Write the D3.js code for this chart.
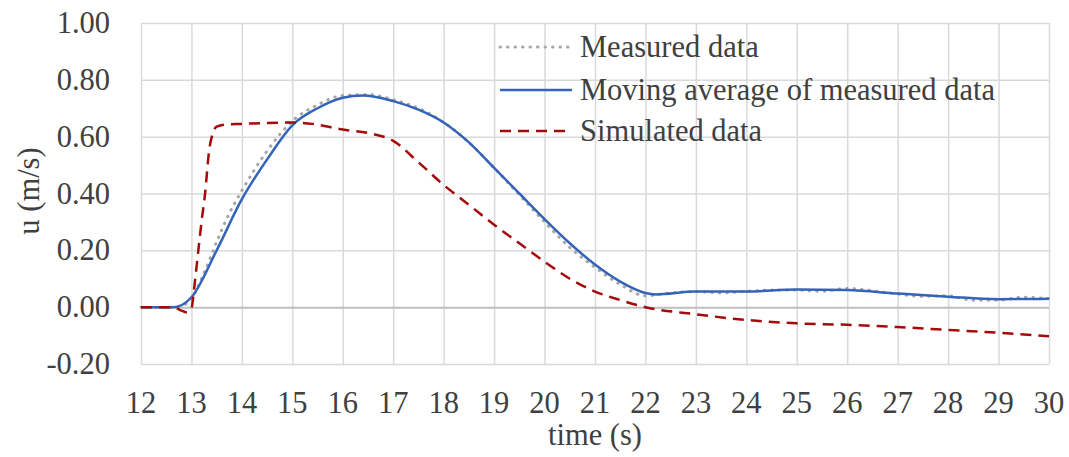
<!DOCTYPE html>
<html>
<head>
<meta charset="utf-8">
<script src="https://cdn.jsdelivr.net/npm/d3@7"></script>
<style>
  body { margin: 0; background: #fff; }
</style>
</head>
<body>
<svg id="chart" width="1069" height="457"></svg>
<script>
// tidspunkter og verdier lest av bildet
var maaltTid = [12, 12.5, 12.8, 13.0, 13.25, 13.5, 13.75, 14, 14.5, 15, 15.5, 16, 16.5, 17, 17.5, 18, 18.5, 19, 19.5, 20, 20.5, 21, 21.5, 22, 22.5, 23, 23.5, 24, 24.5, 25, 25.5, 26, 26.5, 27, 27.5, 28, 28.5, 29, 29.5, 30];
var maaltVerdi = [0, 0, 0.005, 0.03, 0.12, 0.23, 0.33, 0.41, 0.55, 0.655, 0.712, 0.745, 0.748, 0.73, 0.70, 0.65, 0.58, 0.49, 0.395, 0.30, 0.21, 0.14, 0.08, 0.04, 0.05, 0.055, 0.05, 0.056, 0.06, 0.06, 0.056, 0.066, 0.058, 0.046, 0.038, 0.04, 0.024, 0.025, 0.035, 0.03];

var snittTid = [12, 12.64, 13.0, 13.5, 14, 14.5, 15, 15.5, 16, 16.4, 17, 17.5, 18, 18.5, 19, 19.5, 20, 20.5, 21, 21.5, 22, 22.2, 23, 24, 25, 26, 27, 28, 29, 30];
var snittVerdi = [0, 0, 0.035, 0.2, 0.38, 0.52, 0.64, 0.70, 0.737, 0.745, 0.725, 0.695, 0.65, 0.58, 0.49, 0.40, 0.31, 0.225, 0.15, 0.09, 0.05, 0.045, 0.055, 0.055, 0.062, 0.06, 0.048, 0.037, 0.028, 0.03];

var simTid = [12, 12.65, 12.8, 12.9, 13.0, 13.05, 13.1, 13.2, 13.27, 13.35, 13.42, 13.5, 13.7, 14, 15, 15.4, 16, 16.5, 17, 17.5, 18, 18.5, 19, 19.5, 20, 20.5, 21, 21.5, 22, 23, 24, 25, 26, 27, 28, 29, 30];
var simVerdi = [0, 0, -0.012, -0.018, -0.005, 0.06, 0.14, 0.30, 0.40, 0.55, 0.61, 0.635, 0.643, 0.645, 0.65, 0.645, 0.625, 0.613, 0.585, 0.51, 0.43, 0.36, 0.29, 0.225, 0.16, 0.10, 0.055, 0.025, 0.0, -0.025, -0.045, -0.057, -0.062, -0.07, -0.08, -0.09, -0.102];

var xTicks = d3.range(12, 31, 1);
var yTicks = [-0.2, 0, 0.2, 0.4, 0.6, 0.8, 1.0];

var serieNavn = ["Measured data", "Moving average of measured data", "Simulated data"];

var svg = d3.select("#chart");
var venstre = 141, hoyre = 1049, topp = 23, bunn = 364;
var skrift = "'Liberation Serif'";
var skriftFarge = "#404040";
var skriftStr = "30.5px";

var x = d3.scaleLinear().domain([12, 30]).range([venstre, hoyre]);
var y = d3.scaleLinear().domain([-0.2, 1.0]).range([bunn, topp]);

// rutenett
svg.append("g")
    .attr("transform", "translate(0," + bunn + ")")
    .call(d3.axisBottom(x).tickValues(xTicks).tickSize(-(bunn - topp)).tickFormat(""))
    .call(function (g) {
        g.select(".domain").remove();
        g.selectAll("line").attr("stroke", "#d9d9d9").attr("stroke-width", 1.5);
    });

svg.append("g")
    .attr("transform", "translate(" + venstre + ",0)")
    .call(d3.axisLeft(y).tickValues(yTicks).tickSize(-(hoyre - venstre)).tickFormat(""))
    .call(function (g) {
        g.select(".domain").remove();
        g.selectAll("line")
            .attr("stroke", function (d) { return d === 0 ? "#bfbfbf" : "#d9d9d9"; })
            .attr("stroke-width", function (d) { return d === 0 ? 2 : 1.5; });
    });

// aksetekster
function tekst(sel) {
    sel.style("font-family", skrift)
        .style("font-size", skriftStr)
        .style("fill", skriftFarge);
}

svg.append("g").selectAll("text")
    .data(xTicks)
    .enter().append("text")
    .attr("x", function (d) { return x(d); })
    .attr("y", 413)
    .attr("text-anchor", "middle")
    .call(tekst)
    .text(function (d) { return d; });

svg.append("g").selectAll("text")
    .data(yTicks)
    .enter().append("text")
    .attr("x", 110)
    .attr("y", function (d) { return y(d) + 10; })
    .attr("text-anchor", "end")
    .call(tekst)
    .text(function (d) { return d3.format(".2f")(d).replace("\u2212", "-"); });

svg.append("text")
    .attr("x", 595)
    .attr("y", 445)
    .attr("text-anchor", "middle")
    .call(tekst)
    .text("time (s)");

svg.append("text")
    .attr("transform", "translate(39,191) rotate(-90)")
    .attr("text-anchor", "middle")
    .call(tekst)
    .text("u (m/s)");

// linjer
function lagLinje(tider, verdier) {
    var punkter = tider.map(function (t, i) { return [t, verdier[i]]; });
    return d3.line()
        .x(function (d) { return x(d[0]); })
        .y(function (d) { return y(d[1]); })
        .curve(d3.curveMonotoneX)(punkter);
}

svg.append("path")
    .attr("d", lagLinje(maaltTid, maaltVerdi))
    .attr("fill", "none")
    .attr("stroke", "#a6a6a6")
    .attr("stroke-width", 3)
    .attr("stroke-linecap", "round")
    .attr("stroke-dasharray", "0.5,7");

svg.append("path")
    .attr("d", lagLinje(snittTid, snittVerdi))
    .attr("fill", "none")
    .attr("stroke", "#3464b8")
    .attr("stroke-width", 2.5);

svg.append("path")
    .attr("d", lagLinje(simTid, simVerdi))
    .attr("fill", "none")
    .attr("stroke", "#a50a0a")
    .attr("stroke-width", 2.5)
    .attr("stroke-dasharray", "11,7");

// tegnforklaring
var legendY = [47, 90, 131];
var legendStil = [
    { farge: "#a6a6a6", strek: "0.5,7", cap: "round", bredde: 3 },
    { farge: "#3464b8", strek: null, cap: "butt", bredde: 2.5 },
    { farge: "#a50a0a", strek: "11,7", cap: "butt", bredde: 2.5 }
];
serieNavn.forEach(function (navn, i) {
    svg.append("line")
        .attr("x1", 500).attr("x2", 572)
        .attr("y1", legendY[i]).attr("y2", legendY[i])
        .attr("stroke", legendStil[i].farge)
        .attr("stroke-width", legendStil[i].bredde)
        .attr("stroke-linecap", legendStil[i].cap)
        .attr("stroke-dasharray", legendStil[i].strek);
    svg.append("text")
        .attr("x", 580)
        .attr("y", legendY[i] + 10)
        .call(tekst)
        .text(navn);
});
</script>
</body>
</html>
